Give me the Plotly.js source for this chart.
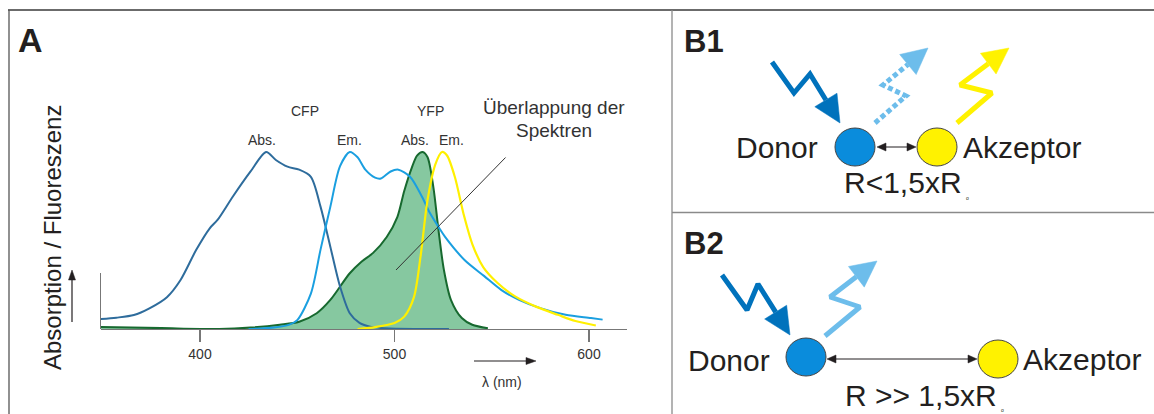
<!DOCTYPE html>
<html><head><meta charset="utf-8">
<script src="https://cdn.plot.ly/plotly-3.0.1.min.js"></script>
<style>html,body{margin:0;padding:0;background:#fff;} #chart{width:1154px;height:414px;}</style>
</head><body><div id="chart"></div>
<script>
// ---- Data (wavelength in nm, normalized intensity) ----
const cfpAbsNm  = [349, 357, 366, 374, 383, 390, 398, 405, 409, 417, 426, 434, 439, 445, 451, 457, 462, 467, 472, 477, 482, 488, 495, 510, 528];
const cfpAbsVal = [0.056, 0.064, 0.079, 0.117, 0.18, 0.277, 0.446, 0.569, 0.616, 0.75, 0.89, 1.0, 0.955, 0.917, 0.90, 0.86, 0.69, 0.465, 0.24, 0.089, 0.035, 0.012, 0.004, 0.0, 0.0];

const cfpEmNm  = [425, 438, 446, 450, 457, 462, 467, 472, 477, 481, 485, 490, 493, 498, 502, 508, 514, 518, 523, 526, 536, 546, 555, 564, 575, 588, 601, 607];
const cfpEmVal = [0.0, 0.008, 0.025, 0.05, 0.20, 0.45, 0.69, 0.92, 1.0, 0.97, 0.90, 0.855, 0.85, 0.89, 0.90, 0.86, 0.75, 0.66, 0.57, 0.52, 0.39, 0.30, 0.22, 0.165, 0.118, 0.08, 0.062, 0.053];

const yfpAbsNm  = [349, 380, 410, 426, 441, 451, 460, 467, 477, 483, 489, 496, 501.5, 505, 509, 511.6, 514.5, 517, 520, 522.6, 525.4, 529, 534.6, 540, 548];
const yfpAbsVal = [0.011, 0.005, 0.0, 0.008, 0.024, 0.041, 0.089, 0.164, 0.315, 0.38, 0.43, 0.52, 0.634, 0.78, 0.915, 0.98, 1.0, 0.97, 0.80, 0.56, 0.334, 0.165, 0.062, 0.024, 0.004];

const yfpEmNm  = [481, 490, 500, 505, 510, 513.4, 517, 521, 524.4, 527, 531, 535.5, 540, 545.6, 553, 562, 573, 584, 593, 603.5];
const yfpEmVal = [0.0, 0.011, 0.034, 0.07, 0.18, 0.41, 0.73, 0.93, 1.0, 0.98, 0.86, 0.65, 0.48, 0.35, 0.26, 0.184, 0.125, 0.08, 0.045, 0.02];

const tickVals = [400, 500, 600];
const tickText = ['400', '500', '600'];

// ---- Page geometry (pixels) ----
const W = 1154, H = 414;
const FONT = 'Liberation Sans, Arial, Helvetica, sans-serif';
const TXT = '#231F20';
const xPix = [101, 627], yBase = 329, yTop = 100, yPeak = 152, yLeftTop = 273;
const pxPerNm = (589 - 200) / 200;
const xRange = [400 - (200 - xPix[0]) / pxPerNm, 600 + (xPix[1] - 589) / pxPerNm];
const unit = yBase - yPeak;
const yRange = [0, (yBase - yTop) / unit];

const C_DARK = '#0072BC', C_LIGHT = '#6DBDEB', C_YEL = '#FFF200';

const traces = [];
function spec(x, y, color, extra) {
  return Object.assign({x: x, y: y, mode: 'lines', xaxis: 'x', yaxis: 'y', hoverinfo: 'skip', showlegend: false,
    line: {color: color, width: 2, shape: 'spline', smoothing: 0.8}}, extra || {});
}
traces.push(spec(yfpAbsNm, yfpAbsVal, '#17692F', {fill: 'tozeroy', fillcolor: '#86C8A0'}));
traces.push(spec(cfpAbsNm, cfpAbsVal, '#2E6C9C'));
traces.push(spec(cfpEmNm, cfpEmVal, '#1A9FE0'));
traces.push(spec(yfpEmNm, yfpEmVal, '#FFF000', {line: {color: '#FFF000', width: 2.2, shape: 'spline', smoothing: 0.8}}));
// dummy to materialize the short left axis line
traces.push({x: [], y: [], xaxis: 'x', yaxis: 'y3', mode: 'lines', showlegend: false, hoverinfo: 'skip'});

// ---- Diagram helpers (pixel overlay axes x2/y2) ----
function arrow(pts, color, width, L, hw, dash) {
  const n = pts.length;
  const tip = pts[n - 1], prev = pts[n - 2];
  let dx = tip[0] - prev[0], dy = tip[1] - prev[1];
  const len = Math.hypot(dx, dy); dx /= len; dy /= len;
  const base = [tip[0] - L * dx, tip[1] - L * dy];
  const nx = -dy, ny = dx;
  const line = pts.slice(0, n - 1).concat([base]);
  traces.push({x: line.map(p => p[0]), y: line.map(p => p[1]), xaxis: 'x2', yaxis: 'y2', mode: 'lines',
    line: {color: color, width: width, dash: dash || 'solid'}, hoverinfo: 'skip', showlegend: false});
  const tri = [[base[0] + hw * nx, base[1] + hw * ny], tip, [base[0] - hw * nx, base[1] - hw * ny], [base[0] + hw * nx, base[1] + hw * ny]];
  traces.push({x: tri.map(p => p[0]), y: tri.map(p => p[1]), xaxis: 'x2', yaxis: 'y2', mode: 'lines', fill: 'toself',
    fillcolor: color, line: {color: color, width: 0.5}, hoverinfo: 'skip', showlegend: false});
}
function dblArrow(x0, x1, y) {
  traces.push({x: [x0 + 8, x1 - 8], y: [y, y], xaxis: 'x2', yaxis: 'y2', mode: 'lines', line: {color: '#231F20', width: 1}, hoverinfo: 'skip', showlegend: false});
  [[x0, 1], [x1, -1]].forEach(([t, s]) => {
    const b = t + s * 9;
    traces.push({x: [b, t, b, b], y: [y - 4, y, y + 4, y - 4], xaxis: 'x2', yaxis: 'y2', mode: 'lines', fill: 'toself',
      fillcolor: '#231F20', line: {color: '#231F20', width: 0.5}, hoverinfo: 'skip', showlegend: false});
  });
}

// Axis arrows in panel A
arrow([[72, 322], [72, 270]], '#231F20', 1.2, 10, 3.5);
arrow([[474, 361], [536, 361]], '#231F20', 1.2, 10, 3.5);

// B1 arrows
arrow([[772, 62], [794, 93], [810, 74], [840, 123]], C_DARK, 5, 27, 13);
arrow([[875, 123], [906, 96], [883, 85], [928, 48]], C_LIGHT, 5, 26, 13, '5px,3px');
arrow([[957, 123], [992, 93], [960, 85], [1009, 48]], C_YEL, 5, 26, 13);
dblArrow(877, 916, 147);
// B2 arrows
arrow([[722, 275], [747, 310], [758, 284], [790, 335]], C_DARK, 5, 27, 13);
arrow([[825, 336], [860, 307], [830, 297], [877, 261]], C_LIGHT, 5, 26, 13);
dblArrow(827, 977, 359);

// ---- Shapes ----
function ln(x0, y0, x1, y1, color, w) {
  return {type: 'line', xref: 'x2', yref: 'y2', x0: x0, y0: y0, x1: x1, y1: y1, line: {color: color, width: w}};
}
function circ(cx, cy, rx, ry, fill) {
  return {type: 'circle', xref: 'x2', yref: 'y2', x0: cx - rx, x1: cx + rx, y0: cy - ry, y1: cy + ry,
    fillcolor: fill, line: {color: '#444', width: 1}};
}
const shapes = [
  ln(8, 10, 1154, 10, '#3a3a3a', 1.5),
  ln(9, 10, 9, 414, '#555', 1.3),
  ln(672, 10, 672, 414, '#8a8a8a', 1.3),
  ln(672, 212.5, 1154, 212.5, '#8a8a8a', 1.3),
  circ(855, 147, 20, 19, '#0A8CDC'),
  circ(937, 147, 20, 19, '#FFF200'),
  circ(806, 357, 20, 19, '#0A8CDC'),
  circ(998, 359, 20, 19, '#FFF200')
];

// ---- Annotations ----
function txt(x, y, text, size, opts) {
  return Object.assign({xref: 'x2', yref: 'y2', x: x, y: y, text: text, showarrow: false,
    font: {family: FONT, size: size, color: TXT}, xanchor: 'center', yanchor: 'middle'}, opts || {});
}
const annotations = [
  txt(30, 40, '<b>A</b>', 34),
  txt(704, 41, '<b>B1</b>', 31),
  txt(704, 243, '<b>B2</b>', 31),
  txt(52, 238, 'Absorption / Fluoreszenz', 24, {textangle: -90}),
  txt(305, 111, 'CFP', 14, {font: {family: FONT, size: 14, color: '#333'}}),
  txt(430, 111, 'YFP', 14, {font: {family: FONT, size: 14, color: '#333'}}),
  txt(262, 140, 'Abs.', 14, {font: {family: FONT, size: 14, color: '#333'}}),
  txt(349, 140, 'Em.', 14, {font: {family: FONT, size: 14, color: '#333'}}),
  txt(415, 140, 'Abs.', 14, {font: {family: FONT, size: 14, color: '#333'}}),
  txt(451, 140, 'Em.', 14, {font: {family: FONT, size: 14, color: '#333'}}),
  txt(554, 107, 'Überlappung der', 19, {font: {family: FONT, size: 19, color: '#333'}}),
  txt(554, 130, 'Spektren', 19, {font: {family: FONT, size: 19, color: '#333'}}),
  txt(502, 382, 'λ (nm)', 14, {font: {family: FONT, size: 14, color: '#333'}}),
  // pointer line into the overlap region
  {xref: 'x', yref: 'y', x: 400 + (396 - 200) / pxPerNm, y: (yBase - 270) / unit, text: '', showarrow: true,
    arrowhead: 0, arrowwidth: 1, arrowcolor: '#333', ax: 111, ay: -114, axref: 'pixel', ayref: 'pixel', standoff: 0},
  // B1 text
  txt(820, 147, 'Donor', 30, {xanchor: 'right'}),
  txt(961, 147, 'Akzeptor', 30, {xanchor: 'left'}),
  txt(903, 182, 'R<1,5xR', 30),
  txt(967, 198, 'o', 5),
  // B2 text
  txt(772, 360, 'Donor', 30, {xanchor: 'right'}),
  txt(1021, 359, 'Akzeptor', 30, {xanchor: 'left'}),
  txt(921, 395, 'R >> 1,5xR', 30),
  txt(1002, 410, 'o', 5)
];

const layout = {
  width: W, height: H,
  margin: {l: 0, r: 0, t: 0, b: 0, pad: 0},
  paper_bgcolor: '#fff', plot_bgcolor: 'rgba(0,0,0,0)',
  showlegend: false,
  xaxis: {domain: [xPix[0] / W, xPix[1] / W], range: xRange, anchor: 'y',
    showgrid: false, zeroline: false, showline: true, linecolor: '#777', linewidth: 1.3,
    ticks: 'outside', ticklen: 12, tickwidth: 1.3, tickcolor: '#777',
    tickvals: tickVals, ticktext: tickText, tickfont: {family: FONT, size: 14, color: '#333'}, fixedrange: true},
  yaxis: {domain: [(H - yBase) / H, (H - yTop) / H], range: yRange, anchor: 'x', visible: false, fixedrange: true},
  yaxis3: {domain: [(H - yBase) / H, (H - yLeftTop) / H], range: [0, 1], anchor: 'x', showline: true, linecolor: '#777',
    linewidth: 1.3, showticklabels: false, ticks: '', showgrid: false, zeroline: false, fixedrange: true},
  xaxis2: {domain: [0, 1], range: [0, W], anchor: 'y2', visible: false, fixedrange: true},
  yaxis2: {domain: [0, 1], range: [H, 0], anchor: 'x2', visible: false, fixedrange: true},
  shapes: shapes,
  annotations: annotations
};

Plotly.newPlot('chart', traces, layout, {displayModeBar: false, staticPlot: true});
</script>
</body></html>
